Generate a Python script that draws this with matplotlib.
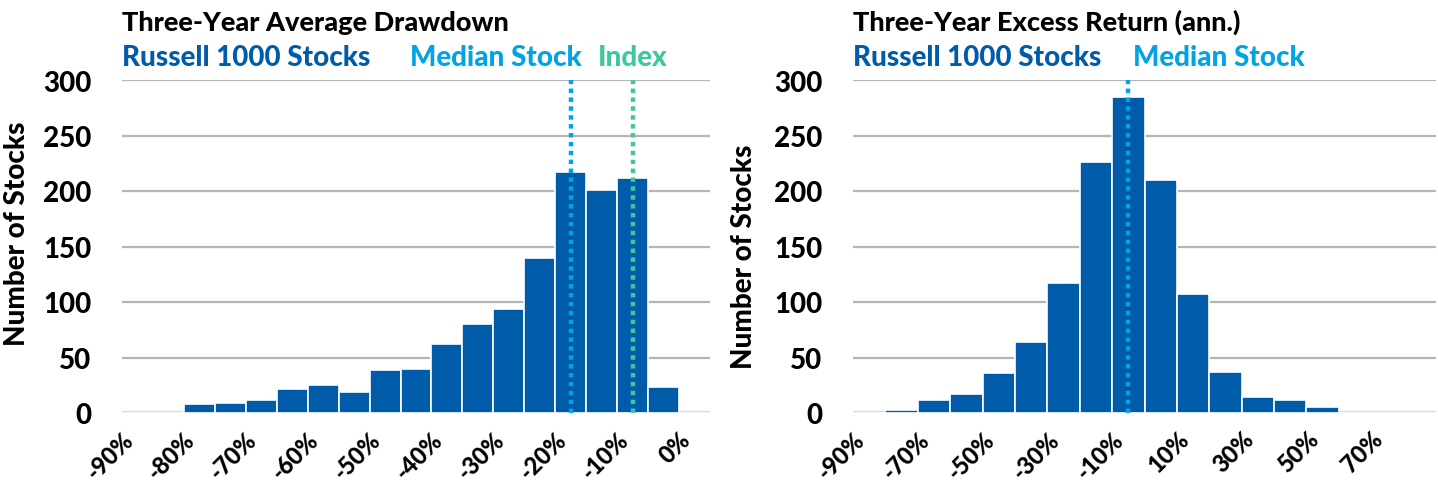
import matplotlib
matplotlib.use('Agg')
import matplotlib.pyplot as plt

plt.rcParams['font.family'] = ['Lato', 'DejaVu Sans']
plt.rcParams['font.weight'] = 'black'
plt.rcParams['axes.labelweight'] = 'black'

# drawdown histogram (5% bins, labels every 10%)
dd_centers = [-90, -85, -80, -75, -70, -65, -60, -55, -50, -45,
              -40, -35, -30, -25, -20, -15, -10, -5, 0]
dd_counts = [0, 0, 8, 9, 12, 22, 25, 19, 39, 40,
             62, 80, 94, 140, 217, 201, 212, 23, 0]
dd_ticks = [-90, -80, -70, -60, -50, -40, -30, -20, -10, 0]
dd_labels = ['-90%', '-80%', '-70%', '-60%', '-50%', '-40%', '-30%', '-20%', '-10%', '0%']
dd_median = -20
dd_index = -10

# excess return histogram (10% bins, labels every 20%)
er_centers = [-90, -80, -70, -60, -50, -40, -30, -20, -10,
              0, 10, 20, 30, 40, 50, 60, 70, 80]
er_counts = [0, 3, 12, 17, 36, 64, 117, 226, 285,
             210, 107, 37, 14, 12, 5, 0, 0, 0]
er_ticks = [-90, -70, -50, -30, -10, 10, 30, 50, 70]
er_labels = ['-90%', '-70%', '-50%', '-30%', '-10%', '10%', '30%', '50%', '70%']
er_median = -10

yticks = [0, 50, 100, 150, 200, 250, 300]

bar_col = '#005BA8'
med_col = '#00A3E3'
idx_col = '#3CC79F'
grid_col = '#B5B5B5'

fig = plt.figure(figsize=(14.38, 4.85), dpi=100)
ax1 = fig.add_axes([122 / 1438, 1 - 414 / 485, 588 / 1438, 333 / 485])
ax2 = fig.add_axes([853 / 1438, 1 - 414 / 485, 583 / 1438, 333 / 485])


def style(ax, lo, hi, ticks, labels):
    ax.set_xlim(lo, hi)
    ax.set_ylim(0, 300)
    ax.set_yticks(yticks)
    ax.set_yticklabels([str(v) for v in yticks], fontsize=20, fontweight='black')
    ax.set_xticks(ticks)
    ax.set_xticklabels(labels, fontsize=17, fontweight='black', rotation=45, ha='right', va='top')
    ax.tick_params(axis='both', length=0)
    ax.tick_params(axis='y', pad=22)
    ax.tick_params(axis='x', pad=10)
    for s in ax.spines.values():
        s.set_visible(False)
    ax.set_axisbelow(True)
    ax.grid(axis='y', color=grid_col, linewidth=1.6)
    ax.axhline(0, color='#D9D9D9', linewidth=3, zorder=1)


ax1.bar(dd_centers, dd_counts, width=5, color=bar_col, edgecolor='white', linewidth=1.2, zorder=2)
style(ax1, -92.5, 2.5, dd_ticks, dd_labels)
ax1.vlines(dd_median, 0, 300, colors=med_col, linestyles=(0, (1, 1)), linewidth=3.2, zorder=3)
ax1.vlines(dd_index, 0, 300, colors=idx_col, linestyles=(0, (1, 1)), linewidth=3.2, zorder=3)

ax2.bar(er_centers, er_counts, width=10, color=bar_col, edgecolor='white', linewidth=1.2, zorder=2)
style(ax2, -95, 85, er_ticks, er_labels)
ax2.vlines(er_median, 0, 300, colors=med_col, linestyles=(0, (1, 1)), linewidth=3.2, zorder=3)

# y labels placed as in the source layout
fig.text(17 / 1438, 1 - 234 / 485, 'Number of Stocks', rotation=90, fontsize=20,
         fontweight='black', ha='center', va='center')
fig.text(744 / 1438, 1 - 257 / 485, 'Number of Stocks', rotation=90, fontsize=20,
         fontweight='black', ha='center', va='center')

# titles and coloured legend text
tfs = 19.5
sfs = 20
ax1.text(0, 1.175, 'Three-Year Average Drawdown', transform=ax1.transAxes,
         fontsize=tfs, fontweight='black', color='black', ha='left', va='center')
ax1.text(0, 1.07, 'Russell 1000 Stocks', transform=ax1.transAxes,
         fontsize=sfs, fontweight='black', color=bar_col, ha='left', va='center')
ax1.text(0.49, 1.07, 'Median Stock', transform=ax1.transAxes,
         fontsize=sfs, fontweight='black', color=med_col, ha='left', va='center')
ax1.text(0.81, 1.07, 'Index', transform=ax1.transAxes,
         fontsize=sfs, fontweight='black', color=idx_col, ha='left', va='center')

ax2.text(0, 1.175, 'Three-Year Excess Return (ann.)', transform=ax2.transAxes,
         fontsize=tfs, fontweight='black', color='black', ha='left', va='center')
ax2.text(0, 1.07, 'Russell 1000 Stocks', transform=ax2.transAxes,
         fontsize=sfs, fontweight='black', color=bar_col, ha='left', va='center')
ax2.text(0.48, 1.07, 'Median Stock', transform=ax2.transAxes,
         fontsize=sfs, fontweight='black', color=med_col, ha='left', va='center')

fig.savefig('out.png', dpi=100)
